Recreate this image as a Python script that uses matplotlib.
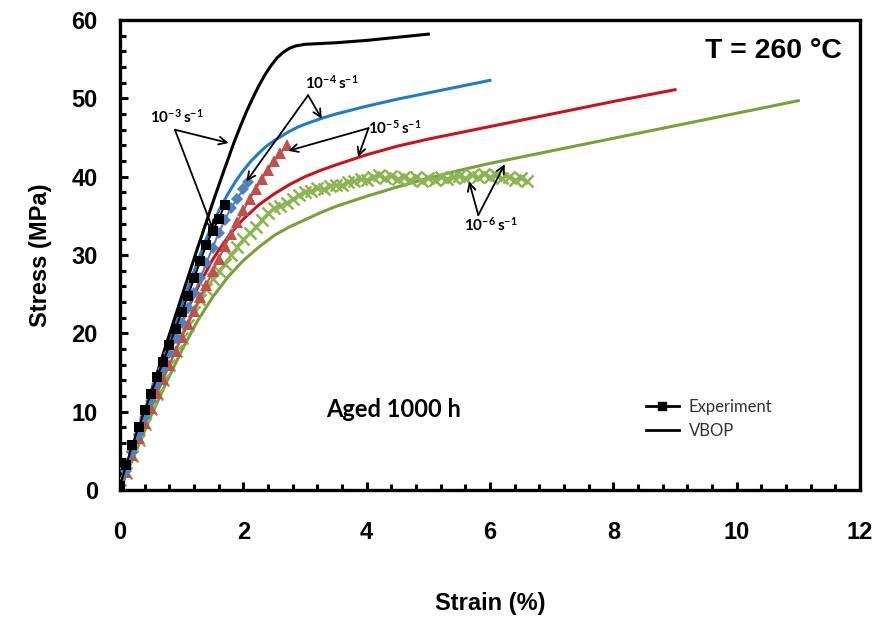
import matplotlib
matplotlib.use("Agg")
import matplotlib.pyplot as plt
from matplotlib.lines import Line2D
from matplotlib.ticker import MultipleLocator

plt.rcParams["font.family"] = ["Liberation Sans", "DejaVu Sans"]
plt.rcParams["mathtext.fontset"] = "custom"
plt.rcParams["mathtext.rm"] = "Lato"
plt.rcParams["mathtext.bf"] = "Lato:bold"

# --- experiment (markers) ---
exp3_strain = [0, 0.1, 0.2, 0.3, 0.4, 0.5, 0.6, 0.7, 0.8, 0.9, 1.0, 1.1, 1.2, 1.3, 1.4, 1.5, 1.6, 1.7]
exp3_stress = [0.5, 3.2, 5.8, 8.0, 10.2, 12.3, 14.4, 16.4, 18.5, 20.6, 22.7, 24.8, 27.0, 29.2, 31.3, 33.1, 34.6, 36.4]

exp4_strain = [0, 0.1, 0.2, 0.3, 0.4, 0.5, 0.6, 0.7, 0.8, 0.9, 1.0, 1.1, 1.2, 1.3, 1.4, 1.5, 1.6, 1.7,
               1.8, 1.9, 2.0, 2.08]
exp4_stress = [0, 2.4, 4.8, 7.1, 9.3, 11.4, 13.5, 15.5, 17.5, 19.4, 21.3, 23.2, 25.1, 27.0, 29.0, 30.9,
               32.8, 34.5, 36.0, 37.2, 38.4, 39.3]

exp5_strain = [0, 0.1, 0.2, 0.3, 0.4, 0.5, 0.6, 0.7, 0.8, 0.9, 1.0, 1.1, 1.2, 1.3, 1.4, 1.5, 1.6, 1.7,
               1.8, 1.9, 2.0, 2.1, 2.2, 2.3, 2.4, 2.5, 2.6, 2.7]
exp5_stress = [0, 2.3, 4.5, 6.6, 8.6, 10.5, 12.4, 14.2, 16.0, 17.8, 19.5, 21.2, 22.9, 24.6, 26.2, 27.9,
               29.5, 31.1, 32.7, 34.2, 35.7, 37.1, 38.4, 39.7, 40.9, 42.0, 43.0, 44.0]

exp6_strain = [0, 0.1, 0.2, 0.3, 0.4, 0.5, 0.6, 0.7, 0.8, 0.9, 1.0, 1.1, 1.2, 1.3, 1.4, 1.5, 1.6, 1.7,
               1.8, 1.9, 2.0, 2.1, 2.2, 2.3, 2.4, 2.5, 2.6, 2.7, 2.8, 2.9, 3.0, 3.1, 3.2, 3.3, 3.4,
               3.5, 3.6, 3.7, 3.8, 3.9, 4.0, 4.1, 4.2, 4.3, 4.4, 4.5, 4.6, 4.7, 4.8, 4.9, 5.0, 5.1,
               5.2, 5.3, 5.4, 5.5, 5.6, 5.7, 5.8, 5.9, 6.0, 6.1, 6.2, 6.3, 6.4, 6.5, 6.6]
exp6_stress = [0, 2.2, 4.4, 6.4, 8.4, 10.3, 12.2, 14.0, 15.9, 17.7, 19.4, 21.1, 22.7, 24.2, 25.6, 26.9,
               28.0, 28.9, 30.0, 31.0, 32.0, 32.8, 33.6, 34.5, 35.4, 36.0, 36.3, 36.7, 37.2, 37.6,
               38.0, 38.2, 38.5, 38.4, 38.8, 39.0, 38.9, 39.3, 39.4, 39.7, 39.6, 40.0, 40.2, 39.8,
               40.1, 39.7, 40.0, 39.6, 39.9, 39.5, 39.8, 39.6, 40.0, 39.7, 39.9, 40.1, 39.8, 40.2,
               39.9, 40.3, 40.0, 40.2, 39.8, 40.0, 39.6, 39.8, 39.5]

# --- VBOP model (lines) ---
vb3_strain = [0, 0.25, 0.5, 0.75, 1.0, 1.25, 1.5, 1.65, 1.75, 1.85, 1.95, 2.05, 2.15, 2.25, 2.35, 2.45,
              2.55, 2.65, 2.75, 2.85, 3.0, 3.25, 3.5, 4.0, 4.5, 5.0]
vb3_stress = [0, 6.2, 12.4, 18.6, 24.7, 30.7, 36.6, 40.0, 42.2, 44.4, 46.4, 48.3, 50.0, 51.6, 53.0, 54.2,
              55.2, 55.9, 56.4, 56.7, 56.9, 57.0, 57.1, 57.4, 57.8, 58.2]

vb4_strain = [0, 0.25, 0.5, 0.75, 1.0, 1.25, 1.375, 1.5, 1.625, 1.75, 1.875, 2.0, 2.125, 2.25, 2.375,
              2.5, 2.625, 2.75, 2.875, 3.0, 3.25, 3.5, 3.75, 4.0, 4.5, 5.0, 5.5, 6.0]
vb4_stress = [0, 6.0, 12.0, 17.9, 23.6, 29.0, 31.6, 33.9, 36.0, 37.8, 39.4, 40.8, 42.0, 43.0, 43.9,
              44.6, 45.2, 45.8, 46.3, 46.7, 47.4, 48.0, 48.5, 49.0, 49.9, 50.7, 51.5, 52.3]

vb5_strain = [0, 0.25, 0.5, 0.75, 1.0, 1.25, 1.5, 1.625, 1.75, 1.875, 2.0, 2.25, 2.5, 2.75, 3.0, 3.25,
              3.5, 4.0, 4.5, 5.0, 5.5, 6.0, 7.0, 8.0, 9.0]
vb5_stress = [0, 5.8, 11.4, 16.6, 21.4, 25.7, 29.4, 30.9, 32.3, 33.5, 34.6, 36.4, 37.8, 39.0, 40.0, 40.8,
              41.5, 42.8, 43.9, 44.8, 45.6, 46.4, 48.0, 49.6, 51.1]

vb6_strain = [0, 0.25, 0.5, 0.75, 1.0, 1.25, 1.5, 1.75, 2.0, 2.25, 2.5, 2.75, 3.0, 3.25, 3.5, 4.0, 4.5,
              5.0, 5.5, 6.0, 7.0, 8.0, 9.0, 10.0, 11.0]
vb6_stress = [0, 4.8, 9.4, 13.7, 17.8, 21.5, 24.6, 27.2, 29.3, 31.0, 32.5, 33.6, 34.5, 35.4, 36.2, 37.5,
              38.7, 39.8, 40.8, 41.7, 43.3, 44.9, 46.5, 48.1, 49.7]

C_BLUE, C_RED, C_GREEN = "#1f7cc6", "#c8141c", "#77a13a"
M_BLUE, M_RED, M_GREEN = "#4f81bd", "#c0504d", "#8db453"

fig = plt.figure(figsize=(8.78, 6.26), dpi=100)
ax = fig.add_axes([0.1367, 0.2173, 0.8428, 0.7507])

# experiment curves
ax.plot(exp6_strain, exp6_stress, color=M_GREEN, lw=1.5, marker="x", ms=8, mew=1.8, zorder=3)
ax.plot(exp5_strain, exp5_stress, color=M_RED, lw=1.5, marker="^", ms=8.5, mew=0, zorder=3)
ax.plot(exp4_strain, exp4_stress, color=M_BLUE, lw=1.5, marker="D", ms=6.5, mew=0, zorder=3)
ax.plot(exp3_strain, exp3_stress, color="black", lw=1.5, marker="s", ms=7, mew=0, zorder=4)

# model curves
ax.plot(vb6_strain, vb6_stress, color=C_GREEN, lw=2.2, zorder=2)
ax.plot(vb5_strain, vb5_stress, color=C_RED, lw=2.2, zorder=2)
ax.plot(vb4_strain, vb4_stress, color=C_BLUE, lw=2.2, zorder=2)
ax.plot(vb3_strain, vb3_stress, color="black", lw=2.2, zorder=2)

ax.set_xlim(0, 12)
ax.set_ylim(0, 60)
ax.xaxis.set_major_locator(MultipleLocator(2))
ax.xaxis.set_minor_locator(MultipleLocator(0.4))
ax.yaxis.set_major_locator(MultipleLocator(10))
ax.yaxis.set_minor_locator(MultipleLocator(2))
ax.tick_params(which="both", direction="in", width=2.2, top=False, right=False)
ax.tick_params(which="major", length=6, labelsize=17)
ax.tick_params(which="minor", length=4)
ax.tick_params(axis="y", which="major", pad=16)
ax.tick_params(axis="x", which="major", pad=22)
for lab in ax.get_xticklabels() + ax.get_yticklabels():
    lab.set_fontweight("bold")
for sp in ax.spines.values():
    sp.set_linewidth(2.4)

ax.set_xlabel("Strain (%)", fontsize=17, fontweight="bold", labelpad=35)
ax.set_ylabel("Stress (MPa)", fontsize=17, fontweight="bold", labelpad=14)

ax.text(11.7, 56.0, "T = 260 °C", fontsize=20.5, fontweight="bold", ha="right", va="center")
ax.text(4.43, 10.3, "Aged 1000 h", fontsize=17, fontweight="bold", family="Lato",
        ha="center", va="center")

# strain-rate call-outs
arrow = dict(arrowstyle="->", color="black", lw=1.3, mutation_scale=14, shrinkA=0, shrinkB=0)
callouts = [
    (r"$\mathbf{10^{-3}\,s^{-1}}$", (0.92, 47.6), (0.89, 46.0), [(1.76, 44.3), (1.51, 33.2)]),
    (r"$\mathbf{10^{-4}\,s^{-1}}$", (3.43, 52.0), (3.05, 50.4), [(3.27, 47.4), (2.05, 39.4)]),
    (r"$\mathbf{10^{-5}\,s^{-1}}$", (4.45, 46.3), (4.03, 46.2), [(2.73, 43.3), (3.86, 42.5)]),
    (r"$\mathbf{10^{-6}\,s^{-1}}$", (6.02, 33.8), (5.81, 35.1), [(5.66, 39.4), (6.24, 41.6)]),
]
for label, pos, start, ends in callouts:
    ax.text(pos[0], pos[1], label, fontsize=11, ha="center", va="center")
    for end in ends:
        ax.annotate("", xy=end, xytext=start, arrowprops=arrow)

handles = [Line2D([], [], color="black", lw=2, marker="s", ms=6),
           Line2D([], [], color="black", lw=2)]
leg = ax.legend(handles, ["Experiment", "VBOP"], loc="upper left", bbox_to_anchor=(0.69, 0.225),
                frameon=False, prop={"family": "Lato", "size": 12}, handlelength=2.0,
                handletextpad=0.6, labelspacing=0.45)
for t in leg.get_texts():
    t.set_color("#333333")

fig.savefig("out.png", dpi=100, facecolor="white")
